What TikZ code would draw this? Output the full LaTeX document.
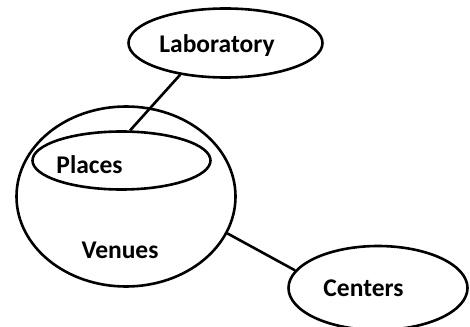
\documentclass[tikz,border=0pt]{standalone}
\usepackage{fontspec}
\setmainfont{Carlito}
\usepackage{tikz}
\usetikzlibrary{shapes,positioning,shapes.geometric}
\tikzset{
ell_n/.style = {ellipse, draw=black, line width=2.6pt, inner sep=0pt},% ellipse noire
ell_t/.style = {inner sep=0pt, anchor=base, font=\fontsize{25.5}{30}\selectfont\bfseries},% texte
link/.style = {line width=2.6pt}
}
\begin{document}
\begin{tikzpicture}[x=1pt,y=-1pt]
	\useasboundingbox (0,0) rectangle (470,326);
	\node [ell_n, minimum width=194pt, minimum height=69pt] (lab) at (225.5,43) {};
	\node [ell_n, minimum width=219pt, minimum height=180pt] (venues) at (126,196.5) {};
	\node [ell_n, minimum width=178pt, minimum height=58pt] (places) at (121.5,160.5) {};
	\node [ell_n, minimum width=179pt, minimum height=84pt] (centers) at (378,288) {};
	% textes
	\node [ell_t] (lab_t) at (217,53) {Laboratory};
	\node [ell_t] (places_t) at (89.5,173) {Places};
	\node [ell_t] (venues_t) at (120,258) {Venues};
	\node [ell_t] (centers_t) at (363.5,296) {Centers};
	% liens
	\draw [link] (lab.215) -- (places.74);
	\draw [link] (venues.-20) -- (centers.168);
\end{tikzpicture}
\end{document}
